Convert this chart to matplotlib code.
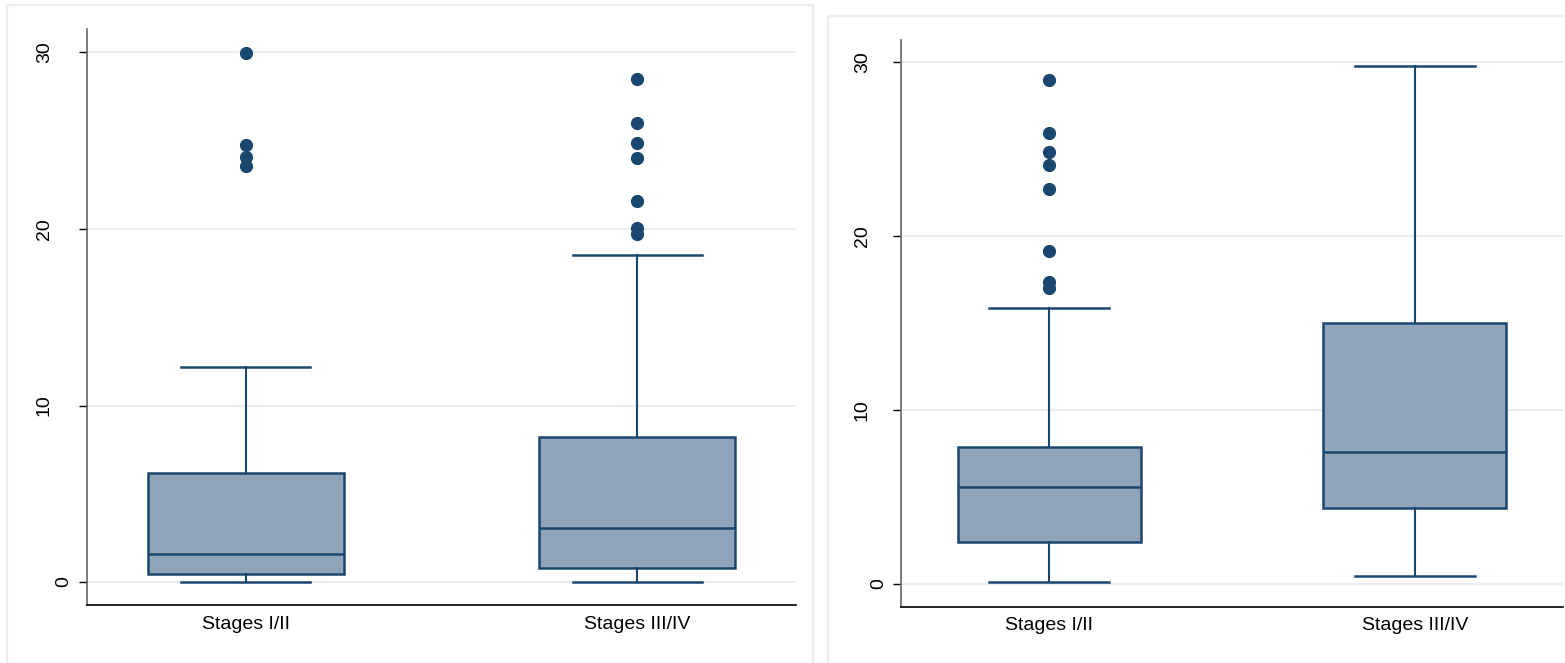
import matplotlib
matplotlib.use("Agg")
import matplotlib.pyplot as plt
from matplotlib.patches import Rectangle
from matplotlib.transforms import offset_copy

plt.rcParams['font.family'] = ['Liberation Sans', 'DejaVu Sans']

categories = ['Stages I/II', 'Stages III/IV']
y_ticks = [0, 10, 20, 30]

# left panel: box statistics
left_whislo = [0.0, 0.0]
left_q1 = [0.46, 0.82]
left_med = [1.58, 3.05]
left_q3 = [6.2, 8.21]
left_whishi = [12.17, 18.55]
left_fliers = [[29.97, 24.78, 24.06, 23.55],
               [28.47, 26.0, 24.85, 24.05, 21.56, 20.03, 19.7]]

# right panel
right_whislo = [0.14, 0.44]
right_q1 = [2.4, 4.35]
right_med = [5.6, 7.62]
right_q3 = [7.9, 15.0]
right_whishi = [15.85, 29.76]
right_fliers = [[28.96, 25.95, 24.82, 24.08, 22.72, 19.16, 17.38, 17.02],
                []]

W, H = 1565, 663
navy = '#1a476f'
fill = '#8fa4b8'
grid_c = '#e8eef2'

fig = plt.figure(figsize=(W / 100, H / 100), dpi=100)


def px_rect(x0, y0, x1, y1):
    return [x0 / W, 1 - y1 / H, (x1 - x0) / W, (y1 - y0) / H]


# light panel frames
for x0, y0, x1, y1 in [(7, 5, 813, 670), (828, 16, 1580, 670)]:
    r = px_rect(x0, y0, x1, y1)
    fig.add_artist(Rectangle((r[0], r[1]), r[2], r[3], transform=fig.transFigure,
                             fill=False, edgecolor=grid_c, linewidth=1.6))


def draw_panel(rect, ylim, whislo, q1, med, q3, whishi, fliers, lab_off, xpad):
    ax = fig.add_axes(rect)
    stats = []
    for i in range(len(categories)):
        stats.append(dict(whislo=whislo[i], q1=q1[i], med=med[i], q3=q3[i],
                          whishi=whishi[i], fliers=fliers[i], label=categories[i]))
    ax.bxp(stats, positions=[1, 2], widths=0.5, capwidths=0.33, patch_artist=True,
           boxprops=dict(facecolor=fill, edgecolor=navy, linewidth=1.8),
           medianprops=dict(color=navy, linewidth=1.8),
           whiskerprops=dict(color=navy, linewidth=1.5),
           capprops=dict(color=navy, linewidth=1.8),
           flierprops=dict(marker='o', markerfacecolor=navy, markeredgecolor=navy,
                           markersize=8.5, linestyle='none'))
    ax.set_xlim(0.595, 2.405)
    ax.set_ylim(*ylim)
    ax.set_yticks(y_ticks)
    ax.set_yticklabels([])
    ax.yaxis.grid(True, color=grid_c, linewidth=1.6)
    ax.set_axisbelow(True)
    ax.tick_params(axis='y', length=6, width=1, color='black')
    ax.tick_params(axis='x', length=0, pad=xpad, labelsize=14)
    for s in ['top', 'right']:
        ax.spines[s].set_visible(False)
    ax.spines['left'].set_color('#666666')
    ax.spines['left'].set_linewidth(1.2)
    ax.spines['bottom'].set_color('black')
    ax.spines['bottom'].set_linewidth(1.2)
    for t in y_ticks:
        off = lab_off[0] if t >= 10 else lab_off[1]
        tr = offset_copy(ax.get_yaxis_transform(), fig=fig, x=-off, y=0, units='dots')
        ax.text(0, t, str(t), transform=tr, rotation=90, ha='right', va='center',
                fontsize=14, color='black')
    return ax


draw_panel(px_rect(87, 29, 796, 605), (-1.30, 31.33),
           left_whislo, left_q1, left_med, left_q3, left_whishi, left_fliers,
           (34, 15), 8)
draw_panel(px_rect(901, 40, 1563, 607), (-1.32, 31.28),
           right_whislo, right_q1, right_med, right_q3, right_whishi, right_fliers,
           (30, 14), 7)

fig.savefig('out.png', dpi=100)
